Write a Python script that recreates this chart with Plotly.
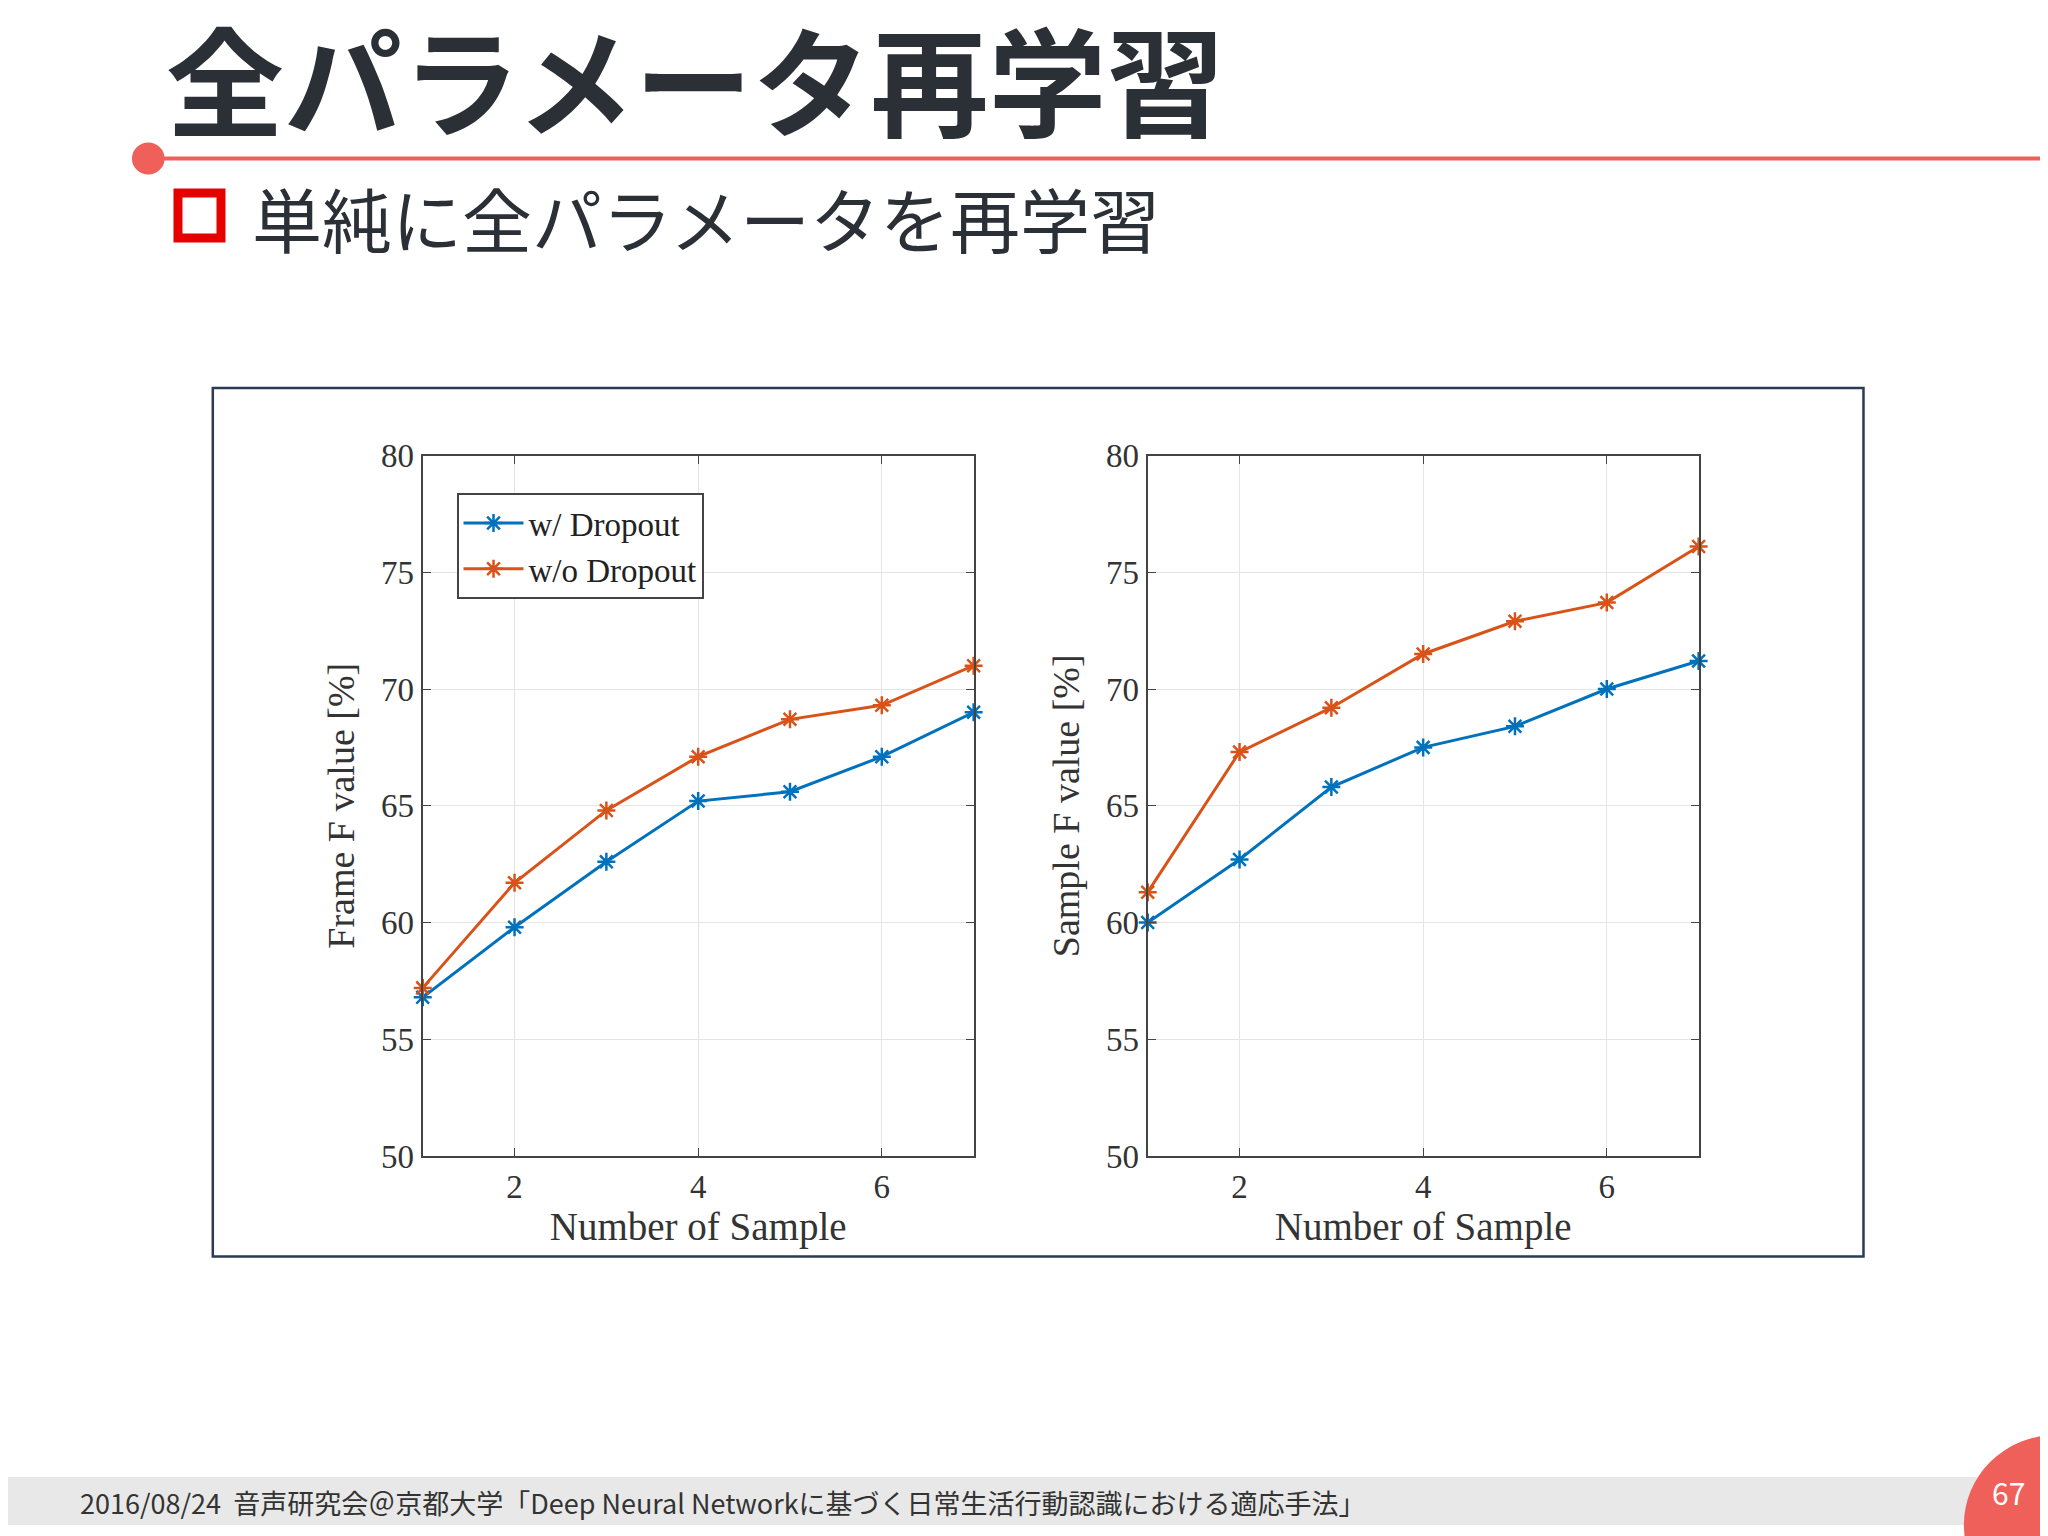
import plotly.graph_objects as go
from plotly.subplots import make_subplots

samples = [1, 2, 3, 4, 5, 6, 7]
frame_w_dropout = [56.8, 59.8, 62.6, 65.2, 65.6, 67.1, 69.0]
frame_wo_dropout = [57.2, 61.7, 64.8, 67.1, 68.7, 69.3, 71.0]
sample_w_dropout = [60.0, 62.7, 65.8, 67.5, 68.4, 70.0, 71.2]
sample_wo_dropout = [61.3, 67.3, 69.2, 71.5, 72.9, 73.7, 76.1]

blue = '#0072BD'
orange = '#D95319'
serif = 'Liberation Serif'
jp = 'Noto Sans CJK JP'

fig = make_subplots(rows=1, cols=2)

def add_pair(yw, ywo, col, show):
    fig.add_trace(go.Scatter(x=samples, y=yw, name='w/ Dropout', mode='lines+markers',
                             line=dict(color=blue, width=3),
                             marker=dict(symbol='asterisk-open', size=15, line=dict(color=blue, width=2.5)),
                             showlegend=show, cliponaxis=False), row=1, col=col)
    fig.add_trace(go.Scatter(x=samples, y=ywo, name='w/o Dropout', mode='lines+markers',
                             line=dict(color=orange, width=3),
                             marker=dict(symbol='asterisk-open', size=15, line=dict(color=orange, width=2.5)),
                             showlegend=show, cliponaxis=False), row=1, col=col)

add_pair(frame_w_dropout, frame_wo_dropout, 1, True)
add_pair(sample_w_dropout, sample_wo_dropout, 2, False)

ax = dict(showline=True, mirror='ticks', linecolor='#444', linewidth=2, ticks='inside',
          ticklen=8, tickcolor='#444', showgrid=True, gridcolor='#e4e4e4', zeroline=False,
          tickfont=dict(family=serif, size=33, color='#333'))
fig.update_xaxes(range=[1, 7], tickvals=[2, 4, 6],
                 title=dict(text='Number of Sample', font=dict(family=serif, size=39, color='#333'), standoff=5), **ax)
fig.update_yaxes(range=[50, 80], dtick=5, **ax)
fig.update_yaxes(title=dict(text='Frame F value [%]', font=dict(family=serif, size=38, color='#333')), row=1, col=1)
fig.update_yaxes(title=dict(text='Sample F value [%]', font=dict(family=serif, size=38, color='#333')), row=1, col=2)
fig.update_layout(xaxis=dict(domain=[0.2025, 0.4715]), xaxis2=dict(domain=[0.5565, 0.8255]),
                  yaxis=dict(domain=[0.246, 0.713]), yaxis2=dict(domain=[0.246, 0.713]))

fig.update_layout(
    width=2048, height=1536, margin=dict(l=0, r=0, t=0, b=0),
    paper_bgcolor='white', plot_bgcolor='white',
    legend=dict(x=0.219, y=0.688, xanchor='left', yanchor='top', bgcolor='white', itemwidth=60,
                bordercolor='#444', borderwidth=2, font=dict(family=serif, size=33, color='#222')),
)

shapes = [
    dict(type='rect', xref='paper', yref='paper', x0=0.100, x1=0.906, y0=0.179, y1=0.758,
         line=dict(color='#2b3a55', width=2.5)),
    dict(type='line', xref='paper', yref='paper', x0=0.068, x1=1.0, y0=0.911, y1=0.911,
         line=dict(color='#f0605a', width=4)),
    dict(type='circle', xref='paper', yref='paper', x0=0.061, x1=0.076, y0=0.901, y1=0.921,
         fillcolor='#f0605a', line=dict(color='#f0605a')),
    dict(type='rect', xref='paper', yref='paper', x0=0.083, x1=0.104, y0=0.843 + 0.015, y1=0.873 + 0.015,
         fillcolor='white', line=dict(color='#e60000', width=9)),
    dict(type='rect', xref='paper', yref='paper', x0=0, x1=1, y0=0, y1=0.032,
         fillcolor='#e8e8e8', line=dict(width=0), layer='below'),
    dict(type='circle', xref='paper', yref='paper', x0=0.955, x1=1.045, y0=-0.06, y1=0.06,
         fillcolor='#f0605a', line=dict(width=0)),
]
fig.update_layout(shapes=shapes)

fig.add_annotation(text='<b>全パラメータ再学習</b>', xref='paper', yref='paper', x=0.076, y=0.966,
                   xanchor='left', yanchor='middle', showarrow=False,
                   font=dict(family=jp, size=118, color='#2b2f36'))
fig.add_annotation(text='単純に全パラメータを再学習', xref='paper', yref='paper', x=0.118, y=0.872,
                   xanchor='left', yanchor='middle', showarrow=False,
                   font=dict(family=jp, size=70, color='#2b2f36'))
fig.add_annotation(text='2016/08/24  音声研究会＠京都大学「Deep Neural Networkに基づく日常生活行動認識における適応手法」',
                   xref='paper', yref='paper', x=0.034, y=0.015, xanchor='left', yanchor='middle',
                   showarrow=False, font=dict(family=jp, size=27, color='#333'))
fig.add_annotation(text='67', xref='paper', yref='paper', x=0.977, y=0.022, xanchor='center', yanchor='middle',
                   showarrow=False, font=dict(family=jp, size=30, color='white'))

fig.write_html("out.html")
